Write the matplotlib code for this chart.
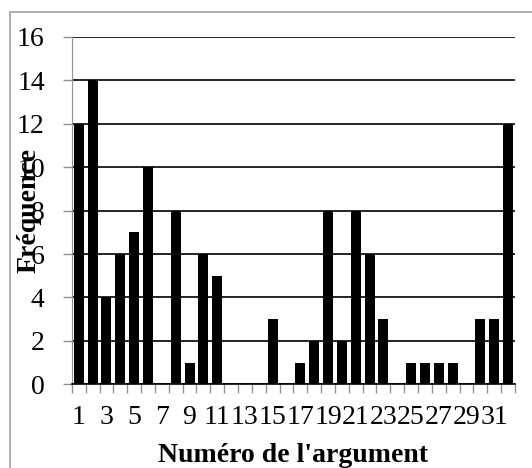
import matplotlib
matplotlib.use("Agg")
import matplotlib.pyplot as plt
from matplotlib.patches import Rectangle

# données
arguments = list(range(1, 33))
frequences = [12, 14, 4, 6, 7, 10, 0, 8, 1, 6, 5, 0, 0, 0, 3, 0,
              1, 2, 8, 2, 8, 6, 3, 0, 1, 1, 1, 1, 0, 3, 3, 12]
etiquettes = [str(a) if a % 2 == 1 else "" for a in arguments]

plt.rcParams['font.family'] = ['Liberation Serif', 'DejaVu Serif']

fig = plt.figure(figsize=(5.32, 4.68), dpi=100)
ax = fig.add_axes([0.135, 0.179, 0.833, 0.742])

# cadre gris autour du graphique
fig.patches.append(Rectangle((10 / 532, -0.1), 1.2, 1 - 12 / 468 + 0.1,
                             transform=fig.transFigure, fill=False,
                             edgecolor='#a0a0a0', linewidth=1.2))

ax.bar(arguments, frequences, width=0.72, color='black', zorder=3)

ax.set_xlim(0.5, 32.5)
ax.set_ylim(0, 16)
ax.set_yticks(range(0, 17, 2))
ax.set_xticks(arguments)
ax.set_xticklabels(etiquettes)
ax.set_xticks([a + 0.5 for a in range(0, 33)], minor=True)

ax.yaxis.grid(True, color='black', linewidth=1.2, zorder=1)
ax.set_axisbelow(True)

for s in ['top', 'right']:
    ax.spines[s].set_visible(False)
ax.spines['left'].set_color('#909090')
ax.spines['bottom'].set_color('black')
ax.spines['bottom'].set_linewidth(1.2)

ax.tick_params(axis='y', colors='#909090', labelcolor='black', labelsize=20,
               length=6.5, width=1, pad=13)
ax.tick_params(axis='x', which='major', length=0, labelsize=20, pad=15)
ax.tick_params(axis='x', which='minor', colors='#909090', length=6.5, width=1)

ax.set_xlabel("Numéro de l'argument", fontsize=20, fontweight='bold', labelpad=9)
ax.set_ylabel("Fréquence", fontsize=20, fontweight='bold')
ax.yaxis.set_label_coords(-0.068, 0.5)

fig.savefig("out.png", dpi=100)
